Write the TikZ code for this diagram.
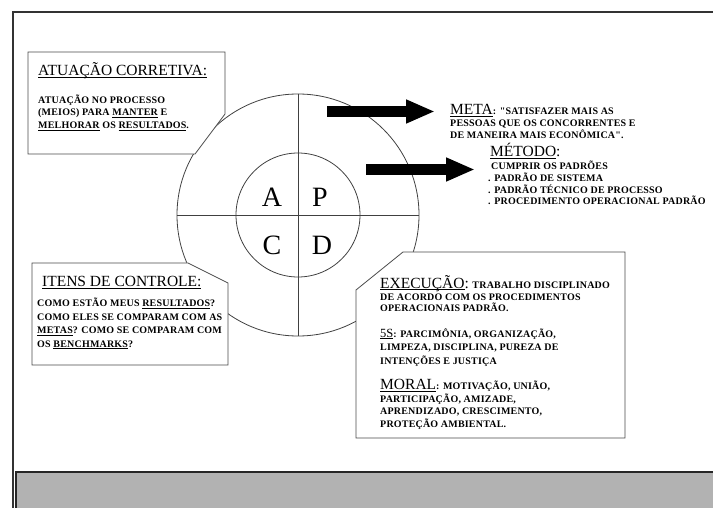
\documentclass[tikz,border=0pt]{standalone}
\usepackage{fontspec}
\setmainfont{Liberation Serif}
\newfontfamily\capsfont[LetterSpace=2]{Liberation Serif Bold}
\newcommand\headfont{\rmfamily\mdseries\fontsize{15.5}{18}\selectfont}
\newcommand\uln[1]{\underline{\smash{#1}}}
\usetikzlibrary{arrows.meta,positioning}
\tikzset{ring/.style={circle,draw=black!75,line width=0.8pt,inner sep=0pt},
         spoke/.style={draw=black!75,line width=0.8pt},
         panel/.style={fill=white,draw=black!70,line width=0.8pt},
         head text/.style={inner sep=0pt,anchor=base west,font=\headfont},
         body text/.style={inner sep=0pt,anchor=base west,align=left,font=\capsfont\fontsize{10}{#1}\selectfont},
         body text/.default=12.5,
         cycle letter/.style={inner sep=0pt,font=\fontsize{28}{30}\selectfont},
         fat arrow/.style={line width=11pt,-{Triangle[length=29pt,width=22pt]}},
}
\begin{document}
\begin{tikzpicture}[x=1pt,y=-1pt]
\useasboundingbox (0,0) rectangle (713,508);
% frame and bottom strip
\draw[line width=2pt,black!80] (13,510) -- (13,12) -- (715,12);
\filldraw[fill=black!30,draw=black!85,line width=1.5pt] (16,472) rectangle (716,511);
% PDCA wheel
\node[ring,minimum size=242pt] (wheel) at (298,215) {};
\node[ring,minimum size=124pt] (hub) at (wheel) {};
\draw[spoke] (wheel.north) -- (wheel.south);
\draw[spoke] (wheel.west) -- (wheel.east);
\node[cycle letter] (act) at (272,197) {A};
\node[cycle letter] (plan) at (320,197) {P};
\node[cycle letter] (check) at (272,245) {C};
\node[cycle letter] (do) at (322,245) {D};
% panels over the wheel
\draw[panel] (28,52) -- (225,52) -- (225,114) -- (195,154) -- (28,154) -- cycle;
\draw[panel] (32,263) -- (188,263) -- (228,283) -- (228,365) -- (32,365) -- cycle;
\draw[panel] (403,252) -- (625,252) -- (625,438) -- (356,438) -- (356,290) -- cycle;
% arrows
\coordinate (meta tail) at (327,111.5);
\coordinate (meta tip) at (435,111.5);
\coordinate (metodo tail) at (366,169.5);
\coordinate (metodo tip) at (475,169.5);
\draw[fat arrow] (meta tail) -- (meta tip);
\draw[fat arrow] (metodo tail) -- (metodo tip);
% texts (multi-line nodes sit on their last baseline)
\node[head text] (atuacao head) at (38,76) {\uln{ATUAÇÃO CORRETIVA:}};
\node[body text] (atuacao body) at (38,128.5) {ATUAÇÃO NO PROCESSO\\(MEIOS) PARA \uln{MANTER} E\\\uln{MELHORAR} OS \uln{RESULTADOS}.};
\node[body text=12] (meta) at (450,139) {{\headfont\uln{META}}: "SATISFAZER MAIS AS\\PESSOAS QUE OS CONCORRENTES E\\DE MANEIRA MAIS ECONÔMICA".};
\node[head text] (metodo head) at (490,157) {\uln{MÉTODO}:};
\node[body text=11.7] (metodo body) at (488,205) {\hspace*{3pt}CUMPRIR OS PADRÕES\\. PADRÃO DE SISTEMA\\. PADRÃO TÉCNICO DE PROCESSO\\. PROCEDIMENTO OPERACIONAL PADRÃO};
\node[head text] (itens head) at (42,287) {\uln{ITENS DE CONTROLE:}};
\node[body text=13.5] (itens body) at (37,347) {COMO ESTÃO MEUS \uln{RESULTADOS}?\\COMO ELES SE COMPARAM COM AS\\\uln{METAS}? COMO SE COMPARAM COM\\OS \uln{BENCHMARKS}?};
\node[body text=12] (execucao) at (380,312) {{\headfont\uln{EXECUÇÃO}:} TRABALHO DISCIPLINADO\\DE ACORDO COM OS PROCEDIMENTOS\\OPERACIONAIS PADRÃO.};
\node[body text=13.5] (cinco s) at (380,364) {{\rmfamily\mdseries\fontsize{12.5}{14}\selectfont\uln{5S}}: PARCIMÔNIA, ORGANIZAÇÃO,\\LIMPEZA, DISCIPLINA, PUREZA DE\\INTENÇÕES E JUSTIÇA};
\node[body text] (moral) at (380,427) {{\headfont\uln{MORAL}}: MOTIVAÇÃO, UNIÃO,\\PARTICIPAÇÃO, AMIZADE,\\APRENDIZADO, CRESCIMENTO,\\PROTEÇÃO AMBIENTAL.};
\end{tikzpicture}
\end{document}
